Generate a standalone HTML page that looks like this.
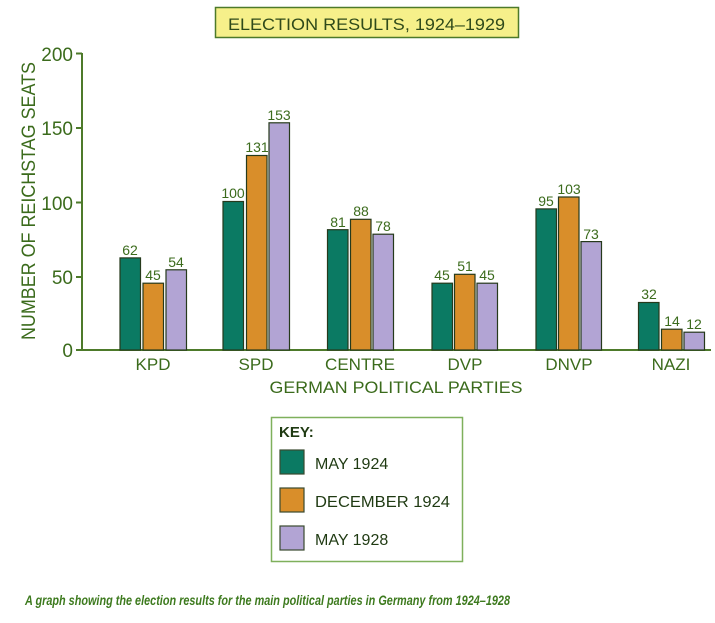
<!DOCTYPE html>
<html><head><meta charset="utf-8"><style>
html,body{margin:0;padding:0;background:#fff;}
svg{display:block;}
text{font-family:"Liberation Sans",sans-serif;fill:#3b6b1c;}
</style></head><body>
<svg width="715" height="623" viewBox="0 0 715 623" xmlns="http://www.w3.org/2000/svg">
<rect x="0" y="0" width="715" height="623" fill="#fff"/>
<!-- title -->
<rect x="215.5" y="7.5" width="303" height="30" fill="#f6f08a" stroke="#4d7a2a" stroke-width="1.5"/>
<text x="228" y="30" font-size="17" textLength="277" lengthAdjust="spacingAndGlyphs" style="fill:#2f4a1a">ELECTION RESULTS, 1924–1929</text>

<!-- y label -->
<text transform="translate(35,201) rotate(-90)" x="0" y="0" text-anchor="middle" font-size="19" textLength="278" lengthAdjust="spacingAndGlyphs">NUMBER OF REICHSTAG SEATS</text>

<!-- axes -->
<g stroke="#4d7a2a" stroke-width="2" fill="none">
<line x1="82" y1="53" x2="82" y2="351"/>
<line x1="81" y1="350" x2="711" y2="350"/>
<line x1="76" y1="53.5" x2="82" y2="53.5"/>
<line x1="76" y1="128" x2="82" y2="128"/>
<line x1="76" y1="202.5" x2="82" y2="202.5"/>
<line x1="76" y1="277" x2="82" y2="277"/>
<line x1="76" y1="350" x2="82" y2="350"/>
</g>
<g font-size="19" text-anchor="end">
<text x="73" y="61">200</text>
<text x="73" y="135">150</text>
<text x="73" y="210">100</text>
<text x="73" y="284">50</text>
<text x="73" y="357">0</text>
</g>

<!-- bars -->
<g stroke="#263a1c" stroke-width="1.2">
<!-- KPD -->
<rect x="120" y="257.9" width="20.5" height="92.1" fill="#0b7a63"/>
<rect x="143" y="283.2" width="20.5" height="66.8" fill="#d98e2a"/>
<rect x="166" y="269.8" width="20.5" height="80.2" fill="#b2a4d4"/>
<!-- SPD -->
<rect x="223" y="201.5" width="20.5" height="148.5" fill="#0b7a63"/>
<rect x="246.5" y="155.5" width="20.5" height="194.5" fill="#d98e2a"/>
<rect x="269" y="122.8" width="20.5" height="227.2" fill="#b2a4d4"/>
<!-- CENTRE -->
<rect x="327.5" y="229.7" width="20.5" height="120.3" fill="#0b7a63"/>
<rect x="350.5" y="219.3" width="20.5" height="130.7" fill="#d98e2a"/>
<rect x="373" y="234.2" width="20.5" height="115.8" fill="#b2a4d4"/>
<!-- DVP -->
<rect x="432" y="283.2" width="20.5" height="66.8" fill="#0b7a63"/>
<rect x="454.5" y="274.3" width="20.5" height="75.7" fill="#d98e2a"/>
<rect x="477" y="283.2" width="20.5" height="66.8" fill="#b2a4d4"/>
<!-- DNVP -->
<rect x="536" y="208.9" width="20.5" height="141.1" fill="#0b7a63"/>
<rect x="558.5" y="197" width="20.5" height="153" fill="#d98e2a"/>
<rect x="581" y="241.6" width="20.5" height="108.4" fill="#b2a4d4"/>
<!-- NAZI -->
<rect x="638.5" y="302.5" width="20.5" height="47.5" fill="#0b7a63"/>
<rect x="661.5" y="329.2" width="20.5" height="20.8" fill="#d98e2a"/>
<rect x="684" y="332.2" width="20.5" height="17.8" fill="#b2a4d4"/>
</g>

<!-- value labels -->
<g font-size="14" text-anchor="middle">
<text x="130" y="255">62</text>
<text x="153" y="280">45</text>
<text x="176" y="267">54</text>
<text x="233" y="198">100</text>
<text x="257" y="152">131</text>
<text x="279" y="120">153</text>
<text x="338" y="227">81</text>
<text x="361" y="216">88</text>
<text x="383" y="231">78</text>
<text x="442" y="280">45</text>
<text x="465" y="271">51</text>
<text x="487" y="280">45</text>
<text x="546" y="206">95</text>
<text x="569" y="194">103</text>
<text x="591" y="239">73</text>
<text x="649" y="299">32</text>
<text x="672" y="326">14</text>
<text x="694" y="329">12</text>
</g>

<!-- category labels -->
<g font-size="17" text-anchor="middle">
<text x="153" y="370">KPD</text>
<text x="256" y="370">SPD</text>
<text x="360" y="370">CENTRE</text>
<text x="465" y="370">DVP</text>
<text x="569" y="370">DNVP</text>
<text x="671" y="370">NAZI</text>
</g>
<text x="396" y="393" font-size="17" text-anchor="middle" textLength="253" lengthAdjust="spacingAndGlyphs">GERMAN POLITICAL PARTIES</text>

<!-- legend -->
<rect x="271.5" y="417.5" width="191" height="144" fill="#fff" stroke="#7fb05c" stroke-width="1.5"/>
<text x="279" y="437" font-size="15" font-weight="bold" style="fill:#1f3a12">KEY:</text>
<g stroke="#3a4a30" stroke-width="1.2">
<rect x="280" y="450" width="24" height="24" fill="#0b7a63"/>
<rect x="280" y="488" width="24" height="24" fill="#d98e2a"/>
<rect x="280" y="526" width="24" height="24" fill="#b2a4d4"/>
</g>
<g font-size="16" style="fill:#1f3a12">
<text x="315" y="469" style="fill:#1f3a12">MAY 1924</text>
<text x="315" y="507" textLength="135" lengthAdjust="spacingAndGlyphs" style="fill:#1f3a12">DECEMBER 1924</text>
<text x="315" y="545" style="fill:#1f3a12">MAY 1928</text>
</g>

<!-- caption -->
<text x="25" y="605" font-size="14" font-weight="bold" font-style="italic" textLength="485" lengthAdjust="spacingAndGlyphs" style="fill:#3d7a1e">A graph showing the election results for the main political parties in Germany from 1924–1928</text>
</svg>
</body></html>
